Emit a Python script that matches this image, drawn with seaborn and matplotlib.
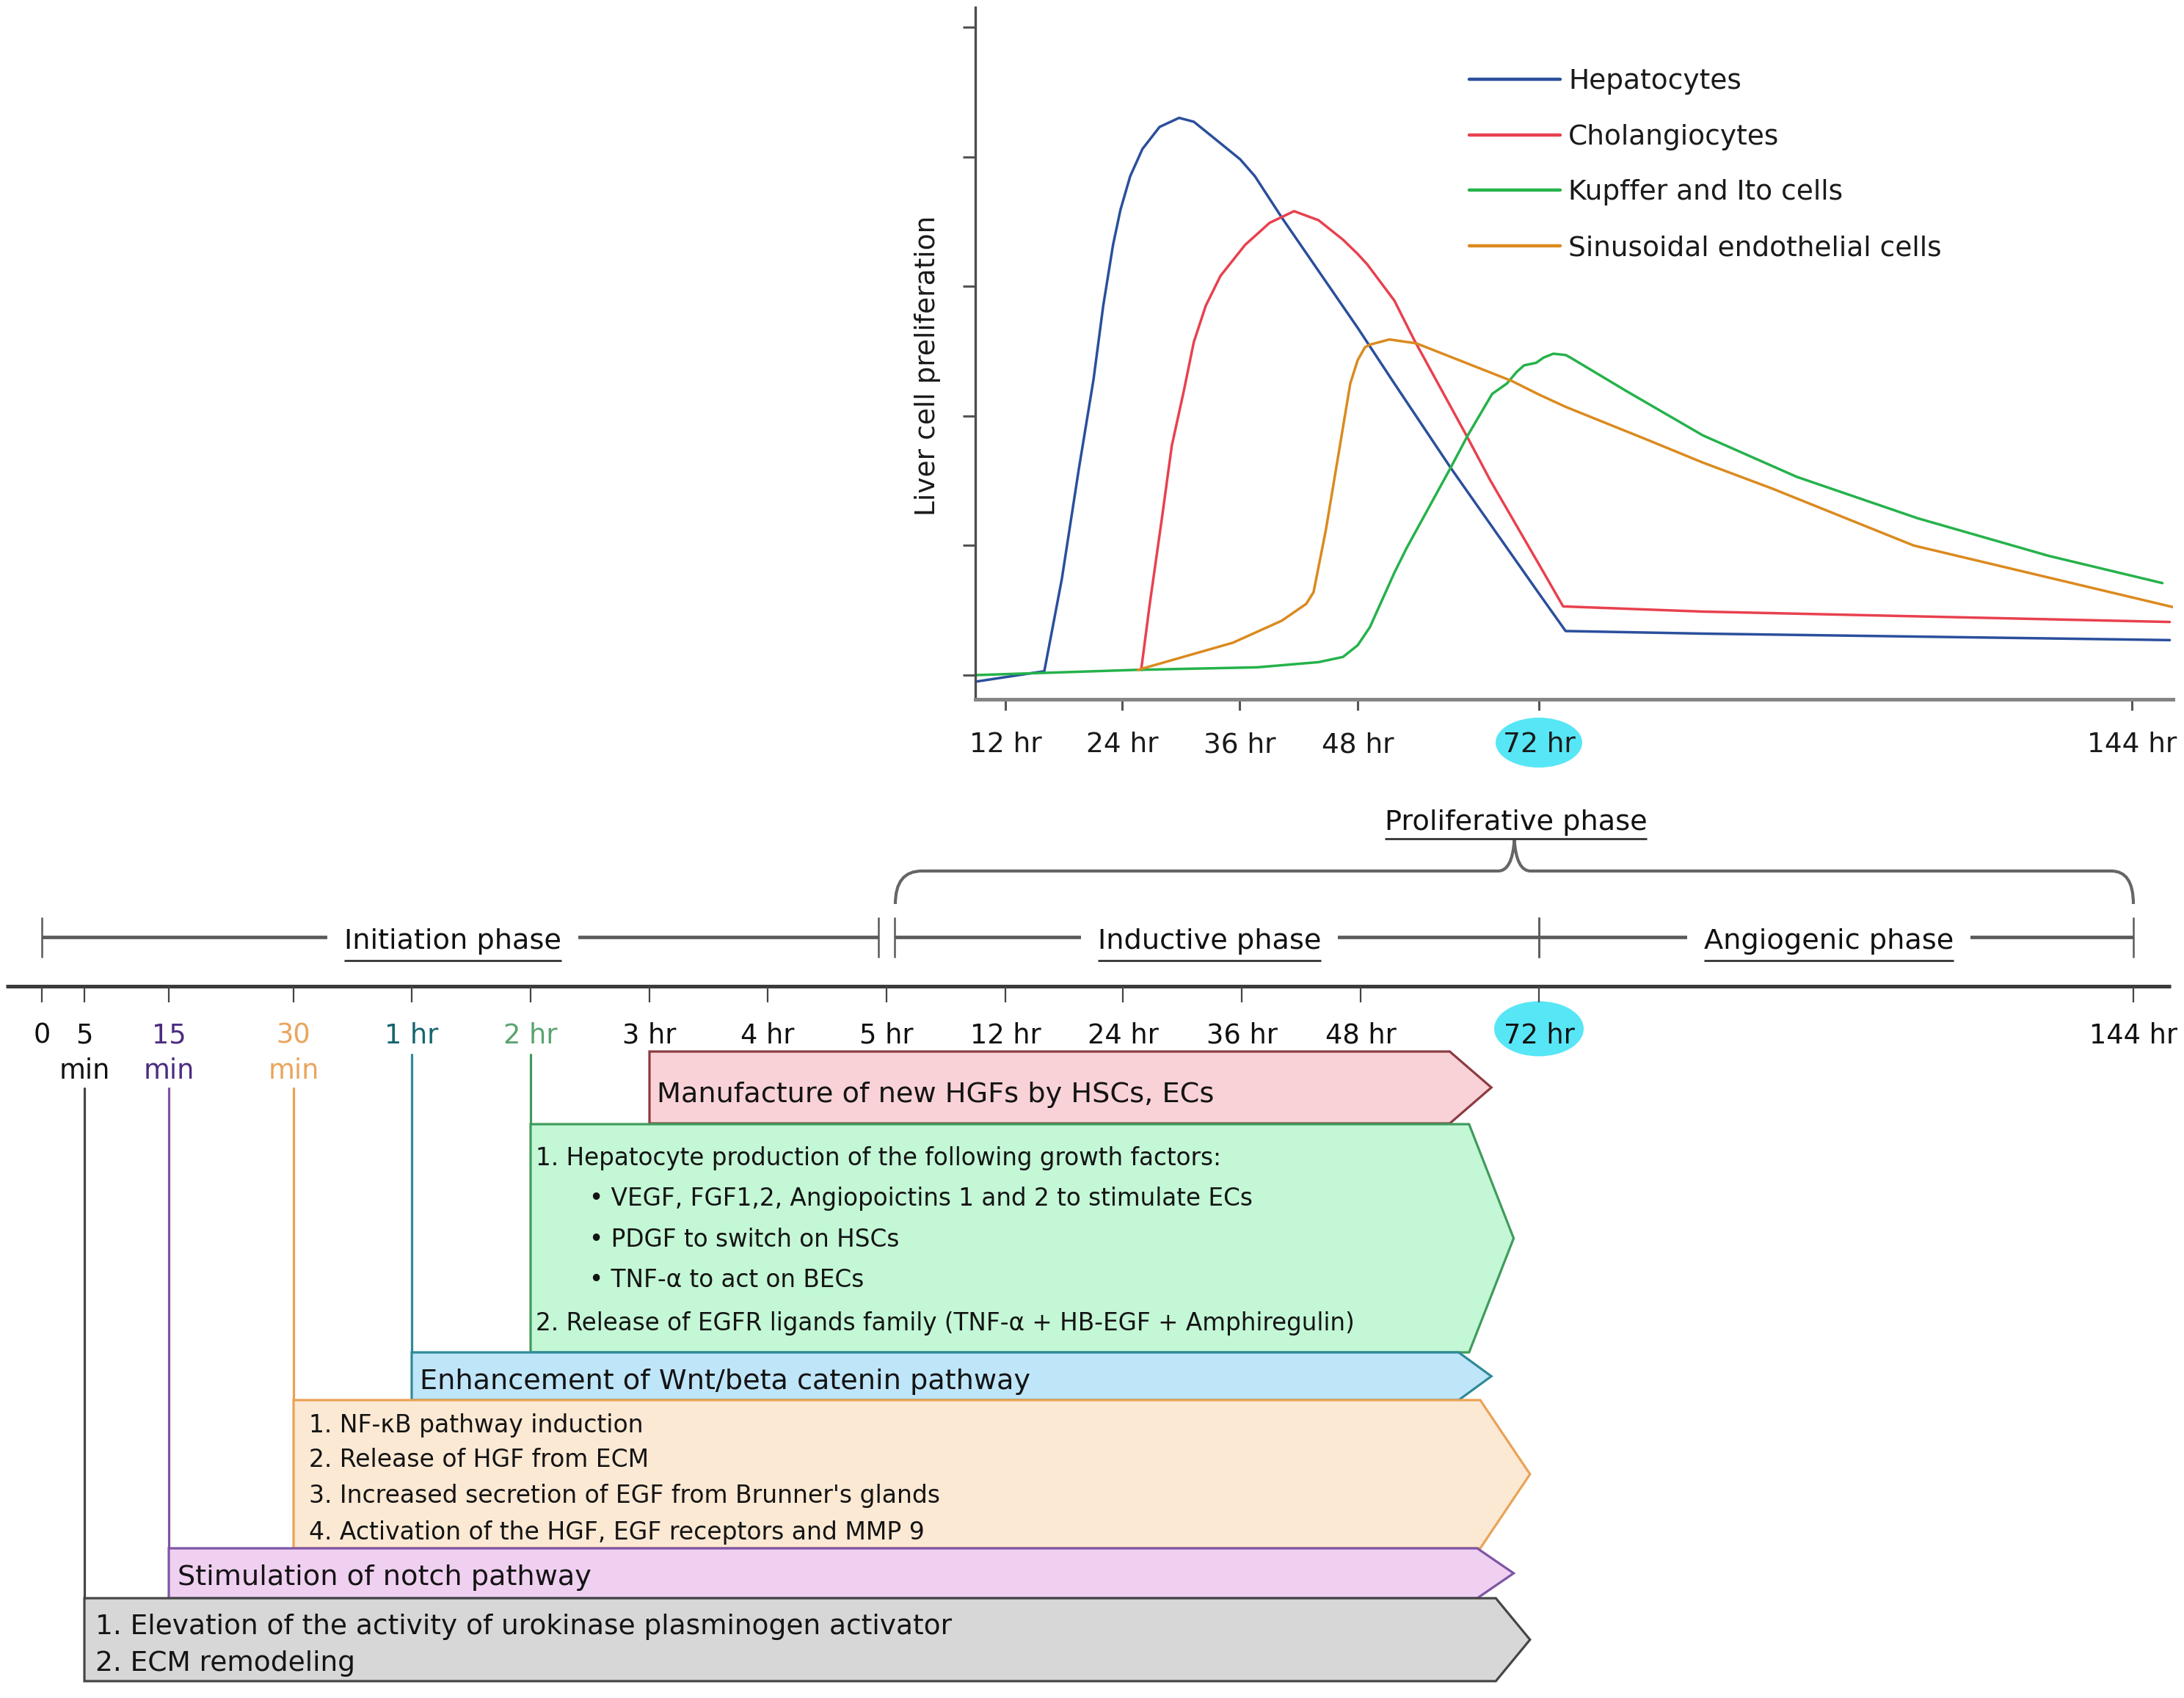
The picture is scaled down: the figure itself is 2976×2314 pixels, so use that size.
import numpy as np
import pandas as pd
import matplotlib
matplotlib.use("Agg")
import matplotlib.pyplot as plt
import seaborn as sns
from matplotlib.patches import Polygon, Ellipse, PathPatch
from matplotlib.path import Path
from matplotlib.lines import Line2D
from matplotlib.transforms import IdentityTransform

sns.set_theme(style="white")
plt.rcParams["font.family"] = ["DejaVu Sans"]

# ============================ DATA ============================
cell_types = ["Hepatocytes", "Cholangiocytes", "Kupffer and Ito cells",
              "Sinusoidal endothelial cells"]

hep_hours = [9.0, 16.0, 17.8, 19.55, 21.06, 22.06, 23.07, 23.83, 24.83, 26.08, 27.83, 29.83, 31.33, 33.3,
             36.07, 37.56, 40.3, 48.0, 52.86, 60.31, 72.0, 75.24, 91.9, 148.6]
hep_vals = [-0.05, 0.03, 0.74, 1.59, 2.28, 2.85, 3.32, 3.59, 3.85, 4.06, 4.23, 4.30, 4.27, 4.15,
            3.98, 3.85, 3.53, 2.68, 2.25, 1.60, 0.63, 0.34, 0.32, 0.27]

chol_hours = [25.95, 26.83, 28.07, 29.08, 30.3, 31.33, 32.55, 34.05, 36.57, 39.06, 41.54, 44.03, 46.51,
              48.0, 49.26, 52.86, 55.45, 62.58, 65.49, 72.0, 74.94, 91.9, 148.6]
chol_vals = [0.04, 0.55, 1.21, 1.77, 2.19, 2.57, 2.85, 3.08, 3.32, 3.49, 3.58, 3.51, 3.36,
             3.25, 3.17, 2.89, 2.59, 1.83, 1.51, 0.855, 0.53, 0.49, 0.41]

kup_hours = [9.0, 25.33, 37.79, 44.03, 46.51, 48.0, 49.62, 52.86, 54.48, 60.31, 62.58, 65.81, 67.76,
             69.06, 70.03, 71.64, 72.56, 73.76, 75.24, 75.83, 82.67, 91.9, 103.3, 118.0, 133.9, 147.7]
kup_vals = [0.0, 0.04, 0.06, 0.10, 0.14, 0.23, 0.37, 0.79, 0.98, 1.60, 1.85, 2.17, 2.25,
            2.34, 2.39, 2.41, 2.45, 2.48, 2.47, 2.45, 2.19, 1.85, 1.53, 1.21, 0.92, 0.71]

sin_hours = [25.6, 35.33, 40.3, 42.78, 43.52, 44.77, 46.0, 47.25, 48.0, 48.97, 49.62, 52.2, 55.77,
             68.4, 72.0, 75.24, 85.0, 91.9, 100.3, 117.5, 149.3]
sin_vals = [0.04, 0.25, 0.42, 0.55, 0.64, 1.12, 1.68, 2.25, 2.43, 2.53, 2.55, 2.59, 2.56,
            2.27, 2.165, 2.07, 1.82, 1.64, 1.44, 1.00, 0.52]

top_tick_hours = [12, 24, 36, 48, 72, 144]
top_tick_labels = ["12 hr", "24 hr", "36 hr", "48 hr", "72 hr", "144 hr"]
y_ticks = [0, 1, 2, 3, 4, 5]

tl_minutes = [0, 5, 15, 30, 60, 120, 180, 240, 300, 720, 1440, 2160, 2880, 4320, 8640]
tl_labels = ["0", "5", "15", "30", "1 hr", "2 hr", "3 hr", "4 hr", "5 hr", "12 hr", "24 hr",
             "36 hr", "48 hr", "72 hr", "144 hr"]
tl_sublabels = ["", "min", "min", "min", "", "", "", "", "", "", "", "", "", "", ""]

phase_names = ["Initiation phase", "Inductive phase", "Angiogenic phase"]
phase_start_min = [0, 300, 4320]
phase_end_min = [300, 4320, 8640]
super_phase_name = "Proliferative phase"
super_phase_start_min = 300
super_phase_end_min = 8640

event_start_min = [180, 120, 60, 30, 15, 5]
event_body_end_hr = [60.0, 62.6, 61.2, 64.1, 63.7, 66.2]
event_tip_hr = [65.6, 68.6, 65.6, 70.8, 68.6, 70.8]
event_texts = [
    ["Manufacture of new HGFs by HSCs, ECs"],
    ["1. Hepatocyte production of the following growth factors:",
     "• VEGF, FGF1,2, Angiopoictins 1 and 2 to stimulate ECs",
     "• PDGF to switch on HSCs",
     "• TNF-α to act on BECs",
     "2. Release of EGFR ligands family (TNF-α + HB-EGF + Amphiregulin)"],
    ["Enhancement of Wnt/beta catenin pathway"],
    ["1. NF-κB pathway induction",
     "2. Release of HGF from ECM",
     "3. Increased secretion of EGF from Brunner's glands",
     "4. Activation of the HGF, EGF receptors and MMP 9"],
    ["Stimulation of notch pathway"],
    ["1. Elevation of the activity of urokinase plasminogen activator",
     "2. ECM remodeling"],
]

# ============================ STYLE / LAYOUT ============================
W, H, DPI = 2976, 2314, 100
line_colors = ["#2a4f9c", "#e8414f", "#25b24b", "#db8a1f"]
cyan = "#57e6f6"

top_tick_px = [1370, 1529, 1689, 1850, 2097, 2905]
top_ax_px = dict(left=1329, right=2961, top=10, bottom=953)
tick0_px, tick_step_px = 920, 176.6

tl_px = [57, 115, 230, 400, 561, 723, 885, 1046, 1208, 1370, 1530, 1692, 1854, 2097, 2907]
tl_label_colors = ["#111111", "#111111", "#4b2c80", "#e9a55e", "#17656f", "#5aa46e", "#111111",
                   "#111111", "#111111", "#111111", "#111111", "#111111", "#111111", "#111111", "#111111"]

event_rows = [(1433, 1531), (1532, 1843), (1843, 1908), (1908, 2110), (2110, 2178), (2178, 2291)]
event_stem_top = [None, 1437, 1437, 1483, 1483, 1483]
event_fill = ["#f9d2d7", "#c3f7d6", "#bfe5f9", "#fce9d4", "#f0d0f1", "#d7d7d7"]
event_edge = ["#8c3b40", "#3f9b5c", "#2f8a99", "#eaa255", "#7d55a5", "#464646"]
event_text_y = [[1488], [1575, 1630, 1686, 1741, 1800], [1879], [1939, 1986, 2035, 2085], [2146], [2213, 2263]]
event_text_dx = [[10], [7, 80, 80, 80, 7], [11], [21, 21, 21, 21], [12], [15, 15]]
event_fs = [27.5, 23.5, 27.5, 23.8, 27.5, 27]


def piecewise(xs, ys):
    xs = np.asarray(xs, dtype=float)
    ys = np.asarray(ys, dtype=float)
    s0 = (ys[1] - ys[0]) / (xs[1] - xs[0])
    s1 = (ys[-1] - ys[-2]) / (xs[-1] - xs[-2])

    def f(x):
        x = np.asarray(x, dtype=float)
        y = np.interp(x, xs, ys)
        y = np.where(x < xs[0], ys[0] + (x - xs[0]) * s0, y)
        y = np.where(x > xs[-1], ys[-1] + (x - xs[-1]) * s1, y)
        return y
    return f


fig = plt.figure(figsize=(W / DPI, H / DPI), dpi=DPI)
fig.patch.set_facecolor("white")

# ---------------- bottom timeline axes (whole figure; y in px from top) ----------------
ax_b = fig.add_axes([0, 0, 1, 1])
fwd_b, inv_b = piecewise(tl_minutes, tl_px), piecewise(tl_px, tl_minutes)
ax_b.set_xscale("function", functions=(fwd_b, inv_b))
ax_b.set_xlim(float(inv_b(0)), float(inv_b(W)))
ax_b.set_ylim(H, 0)
ax_b.axis("off")


def px_of(m):
    return float(ax_b.transData.transform((m, 0))[0])


def M(px):
    return float(ax_b.transData.inverted().transform((px, 0))[0])


def add_ellipse(cx, cy_top, w, h):
    e = Ellipse((cx, H - cy_top), w, h, transform=IdentityTransform(),
                facecolor=cyan, edgecolor="none", zorder=-1)
    fig.add_artist(e)


# ---------------- top chart ----------------
ax_t = fig.add_axes([top_ax_px["left"] / W, 1 - top_ax_px["bottom"] / H,
                     (top_ax_px["right"] - top_ax_px["left"]) / W,
                     (top_ax_px["bottom"] - top_ax_px["top"]) / H])
ax_t.set_facecolor("none")
fwd_t, inv_t = piecewise(top_tick_hours, top_tick_px), piecewise(top_tick_px, top_tick_hours)
ax_t.set_xscale("function", functions=(fwd_t, inv_t))

frames = []
for name, hrs, vals in zip(cell_types, [hep_hours, chol_hours, kup_hours, sin_hours],
                           [hep_vals, chol_vals, kup_vals, sin_vals]):
    frames.append(pd.DataFrame({"hour": hrs, "value": vals, "cell": name}))
df = pd.concat(frames, ignore_index=True)

sns.lineplot(data=df, x="hour", y="value", hue="cell", hue_order=cell_types,
             palette=dict(zip(cell_types, line_colors)), estimator=None, sort=False,
             linewidth=2.5, legend=False, ax=ax_t)
for ln in ax_t.get_lines():
    ln.set_solid_joinstyle("round")
    ln.set_solid_capstyle("round")

ax_t.set_xlim(float(inv_t(top_ax_px["left"])), float(inv_t(top_ax_px["right"])))
ax_t.set_ylim((tick0_px - top_ax_px["bottom"]) / tick_step_px, (tick0_px - top_ax_px["top"]) / tick_step_px)
ax_t.set_xticks(top_tick_hours, top_tick_labels)
ax_t.set_yticks(y_ticks)
ax_t.set_xlabel("")
ax_t.set_ylabel("Liver cell preliferation", fontsize=27, color="#1a1a1a")
ax_t.yaxis.set_label_coords(-0.0285, 0.4825)
for s in ["top", "right"]:
    ax_t.spines[s].set_visible(False)
ax_t.spines["left"].set_color("#4d4d4d")
ax_t.spines["left"].set_linewidth(2.4)
ax_t.spines["bottom"].set_color("#858585")
ax_t.spines["bottom"].set_linewidth(3.6)
ax_t.tick_params(axis="x", direction="out", length=11, width=2.2, color="#555555", pad=21,
                 labelsize=27, labelcolor="#1a1a1a", bottom=True)
ax_t.tick_params(axis="y", direction="out", length=12, width=2.2, color="#555555",
                 left=True, labelleft=False)

handles = [Line2D([], [], color=c, lw=3.2) for c in line_colors]
leg = ax_t.legend(handles, cell_types, loc="upper left", bbox_to_anchor=(2002 / W, 1 - 93 / H),
                  bbox_transform=fig.transFigure, frameon=False, fontsize=27, handlelength=3.3,
                  handletextpad=0.3, labelspacing=1.06, borderpad=0, borderaxespad=0)
for t in leg.get_texts():
    t.set_color("#1a1a1a")

# cyan highlight behind the 72 hr label of the top chart
add_ellipse(float(ax_t.transData.transform((72, 0))[0]), 1012, 118, 68)

# ---------------- timeline axis ----------------
ax_b.plot([M(8), M(2958)], [1344, 1344], color="#3b3b3b", lw=3.6, solid_capstyle="butt", zorder=2)
ax_b.vlines(tl_minutes, 1344, 1366, color="#444444", lw=1.6, zorder=2)
add_ellipse(px_of(4320), 1402, 122, 75)
for m, lab, sub, col in zip(tl_minutes, tl_labels, tl_sublabels, tl_label_colors):
    ax_b.text(m, 1422, lab, ha="center", va="baseline", fontsize=26.5, color=col, zorder=3)
    if sub:
        ax_b.text(m, 1470, sub, ha="center", va="baseline", fontsize=26.5, color=col, zorder=3)

# ---------------- phases ----------------
phase_col = "#5a5a5a"
renderer = fig.canvas.get_renderer()
underline_texts = []
for name, s, e in zip(phase_names, phase_start_min, phase_end_min):
    x0 = px_of(s) + (11 if s == 300 else 0)
    x1 = px_of(e) - (11 if e == 300 else 0)
    ax_b.plot([M(x0), M(x1)], [1277, 1277], color=phase_col, lw=3.4, solid_capstyle="butt", zorder=2)
    ax_b.vlines([M(x0), M(x1)], 1250, 1305, color=phase_col, lw=1.8, zorder=2)
    t = ax_b.text(M((x0 + x1) / 2 - 10), 1279, name, ha="center", va="center_baseline", fontsize=27.5,
                  color="#111111", zorder=3,
                  bbox=dict(boxstyle="square,pad=0.6", fc="white", ec="none"))
    underline_texts.append((t, 1309))

# brace for the proliferative phase
xl = px_of(super_phase_start_min) + 12
xr = px_of(super_phase_end_min)
xm = (xl + xr) / 2
yl, ye, yp = 1187, 1232, 1145
brace_px = [(xl, ye), (xl, yl), (xl + 36, yl), (xm - 22, yl), (xm - 3, yl), (xm, yp),
            (xm + 3, yl), (xm + 22, yl), (xr - 30, yl), (xr, yl), (xr, ye)]
codes = [Path.MOVETO, Path.CURVE3, Path.CURVE3, Path.LINETO, Path.CURVE3, Path.CURVE3,
         Path.CURVE3, Path.CURVE3, Path.LINETO, Path.CURVE3, Path.CURVE3]
brace = PathPatch(Path([(M(x), y) for x, y in brace_px], codes), fill=False,
                  edgecolor="#666666", lw=3.0, zorder=2)
ax_b.add_patch(brace)
tp = ax_b.text(M(xm + 2), 1117, super_phase_name, ha="center", va="center_baseline", fontsize=27.5,
               color="#111111", zorder=3)
underline_texts.append((tp, 1143))

for t, yu in underline_texts:
    bb = t.get_window_extent(renderer=renderer)
    ax_b.plot([M(bb.x0), M(bb.x1)], [yu, yu], color="#333333", lw=2.0, solid_capstyle="butt", zorder=4)

# ---------------- event arrows ----------------
for i in range(len(event_start_min)):
    top, bot = event_rows[i]
    s = event_start_min[i]
    be = event_body_end_hr[i] * 60
    tip = event_tip_hr[i] * 60
    verts = [(s, top), (be, top), (tip, (top + bot) / 2), (be, bot), (s, bot)]
    ax_b.add_patch(Polygon(verts, closed=True, facecolor=event_fill[i], edgecolor=event_edge[i],
                           lw=2.3, joinstyle="miter", zorder=2 + i * 0.01))
    if event_stem_top[i] is not None:
        ax_b.plot([s, s], [event_stem_top[i], top], color=event_edge[i], lw=2.3, zorder=2.5)
    for txt, y, dx in zip(event_texts[i], event_text_y[i], event_text_dx[i]):
        ax_b.annotate(txt, xy=(s, y), xytext=(dx * 72 / DPI, 0), textcoords="offset points",
                      ha="left", va="center_baseline", fontsize=event_fs[i], color="#141414", zorder=5)

fig.savefig("out.png", dpi=DPI, facecolor="white")
